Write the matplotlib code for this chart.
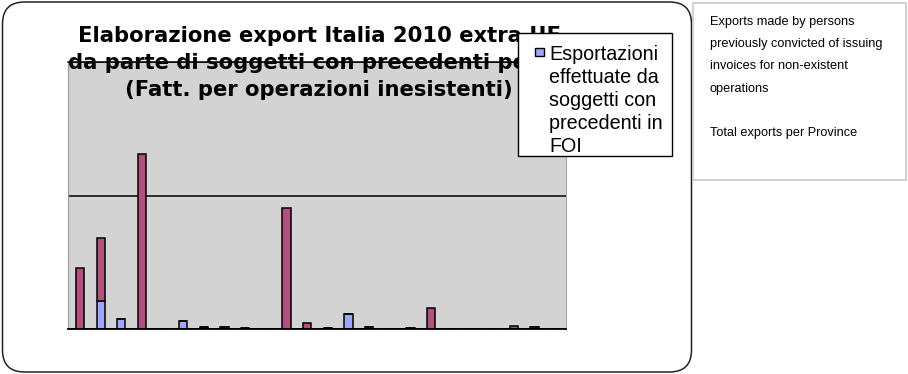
import numpy as np
import matplotlib.pyplot as plt
from matplotlib.patches import Rectangle, FancyBboxPatch
from matplotlib.transforms import IdentityTransform

plt.rcParams['font.family'] = ['Liberation Sans', 'DejaVu Sans']

# export per provincia (unita' relative, la griglia sta a 1)
foi_exports = [0, 0.21, 0.073, 0, 0, 0.06, 0.013, 0.017, 0.004, 0, 0, 0,
               0.005, 0.115, 0.017, 0.003, 0.008, 0, 0, 0, 0, 0, 0.013, 0]
total_exports = [0.46, 0.47, 0, 1.31, 0, 0, 0, 0, 0, 0, 0.91, 0.047,
                 0, 0, 0, 0, 0, 0.158, 0, 0, 0, 0.025, 0, 0]

title = ("Elaborazione export Italia 2010 extra UE\n"
         "da parte di soggetti con precedenti penali\n"
         "(Fatt. per operazioni inesistenti)")
foi_label = "Esportazioni\neffettuate da\nsoggetti con\nprecedenti in\nFOI"
side_note = ("Exports made by persons\npreviously convicted of issuing\n"
             "invoices for non-existent\noperations\n\nTotal exports per Province")

blue = '#a0a5ff'
pink = '#b3507f'

W, H = 908, 374


def fx(px):
    return px / W


def fy(py):
    return 1 - py / H


fig = plt.figure(figsize=(W / 100, H / 100), dpi=100)

# cornice arrotondata del grafico
fig.add_artist(FancyBboxPatch((2.5, 2), 689, 370, boxstyle="round,pad=0,rounding_size=22",
                              transform=IdentityTransform(), facecolor='none',
                              edgecolor='#222222', lw=1.1))
# riquadro note a destra
fig.add_artist(Rectangle((fx(693), fy(179.5)), fx(906) - fx(693), fy(3) - fy(179.5),
                         transform=fig.transFigure, facecolor='none',
                         edgecolor='#c8c8c8', lw=1.2))
fig.text(fx(710), fy(15.5), side_note, fontsize=9.2, linespacing=2.15, va='top', ha='left')

ax = fig.add_axes([fx(68), fy(329), fx(566) - fx(68), fy(62) - fy(329)])
ax.set_facecolor('#d3d3d3')

x = np.arange(len(foi_exports))
ax.bar(x, foi_exports, width=0.4, color=blue, edgecolor='black', lw=1.1, zorder=2)
ax.bar(x, total_exports, bottom=foi_exports, width=0.4, color=pink,
       edgecolor='black', lw=1.1, zorder=2)

ax.set_xlim(-0.58, 23.53)
ax.set_ylim(0, 2)
ax.set_yticks([0, 1, 2])
ax.yaxis.grid(True, color='black', lw=1.1)
ax.set_axisbelow(True)
ax.tick_params(left=False, bottom=False, labelleft=False, labelbottom=False)

ax.spines['top'].set_color('black')
ax.spines['top'].set_linewidth(1.1)
ax.spines['bottom'].set_color('black')
ax.spines['bottom'].set_linewidth(1.3)
ax.spines['left'].set_color('#9a9a9a')
ax.spines['right'].set_color('#a8a8a8')

# titolo sotto la linea superiore del riquadro
ax.text(fx(319), fy(26), title, transform=fig.transFigure, ha='center', va='top',
        fontsize=15.2, fontweight='bold', family='DejaVu Sans', linespacing=1.45,
        zorder=2, clip_on=False)

# legenda
ax.add_artist(Rectangle((fx(518), fy(156)), fx(672) - fx(518), fy(33) - fy(156),
                        transform=fig.transFigure, facecolor='white', edgecolor='black',
                        lw=1, zorder=4, clip_on=False))
ax.add_artist(Rectangle((fx(534.5), fy(56)), fx(544) - fx(534.5), fy(47.5) - fy(56),
                        transform=fig.transFigure, facecolor=blue, edgecolor='black',
                        lw=1, zorder=5, clip_on=False))
ax.text(fx(549), fy(45), foi_label, transform=fig.transFigure, ha='left', va='top',
        fontsize=14.2, linespacing=1.27, zorder=5, clip_on=False)

fig.savefig('out.png', dpi=100)
